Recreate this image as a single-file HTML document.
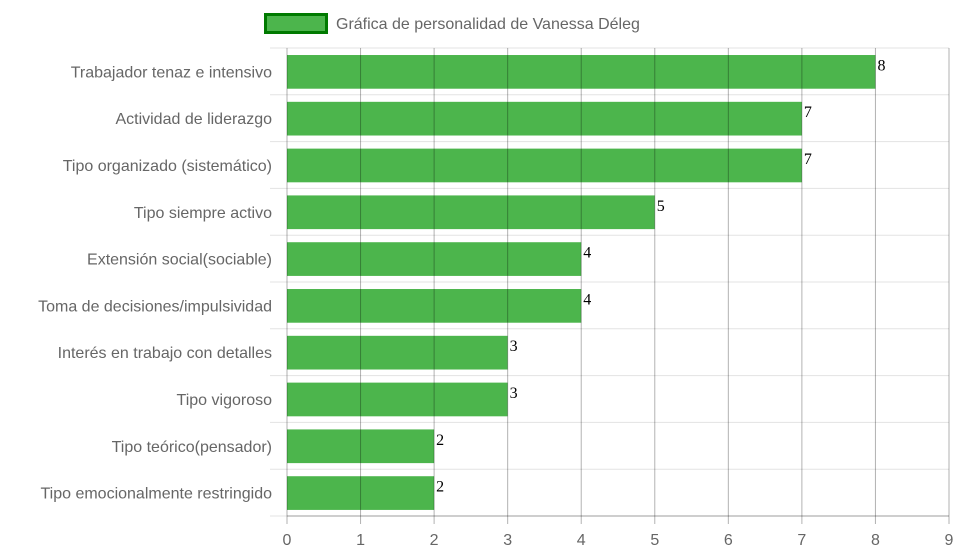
<!DOCTYPE html>
<html><head><meta charset="utf-8"><style>
body{margin:0;background:#fff}
svg{display:block;font-family:"Liberation Sans",sans-serif}
</style></head><body>
<svg id="chart" width="958" height="558">
<g>
<rect x="265.5" y="14.5" width="61" height="18" fill="#4cb54c" stroke="#007a00" stroke-width="3"/>
<text x="336" y="29" font-size="16" fill="#666">Gráfica de personalidad de Vanessa Déleg</text>
</g>
<g id="plot"></g>
</svg>
<script>
const categories=["Trabajador tenaz e intensivo","Actividad de liderazgo","Tipo organizado (sistemático)","Tipo siempre activo","Extensión social(sociable)","Toma de decisiones/impulsividad","Interés en trabajo con detalles","Tipo vigoroso","Tipo teórico(pensador)","Tipo emocionalmente restringido"];
const values=[8,7,7,5,4,4,3,3,2,2];
const ticks=[0,1,2,3,4,5,6,7,8,9];
const X0=287,X1=949,Y0=48,Y1=516,MAX=9;
const x=v=>X0+(X1-X0)*v/MAX;
const band=(Y1-Y0)/categories.length;
const y=i=>Y0+band*i;
const g=document.getElementById('plot');
const NS='http://www.w3.org/2000/svg';
function mk(t,a){const e=document.createElementNS(NS,t);for(const k in a)e.setAttribute(k,a[k]);g.appendChild(e);return e;}
for(let i=0;i<=categories.length;i++){
 const l=mk('line',{x1:270,x2:X1,y1:y(i),y2:y(i),stroke:'#e3e3e3','stroke-width':1});
 
 
}
categories.forEach((c,i)=>{
 const r=mk('rect',{x:x(0),y:y(i)+band*0.15,width:x(values[i])-x(0),height:band*0.72,fill:'#4cb54c'});
 
 
 const t=mk('text',{x:272,y:y(i)+band/2+6,'font-size':16,fill:'#666','text-anchor':'end'});
 t.textContent=c;
 
 
 const v=mk('text',{x:x(values[i])+2,y:y(i)+band/2-1,'font-size':16,fill:'#000','font-family':'Liberation Serif, serif'});
 v.textContent=values[i];
 
 
});
ticks.forEach(t=>{
 const l=mk('line',{x1:x(t),x2:x(t),y1:Y0,y2:Y1+8,stroke:'rgba(0,0,0,0.3)','stroke-width':1});
 
 
 const tx=mk('text',{x:x(t),y:545,'font-size':16,fill:'#666','text-anchor':'middle'});
 tx.textContent=t;
 
 
});
const ax=mk('line',{x1:X0,x2:X1,y1:Y1,y2:Y1,stroke:'rgba(0,0,0,0.3)','stroke-width':1});


</script>
</body></html>
